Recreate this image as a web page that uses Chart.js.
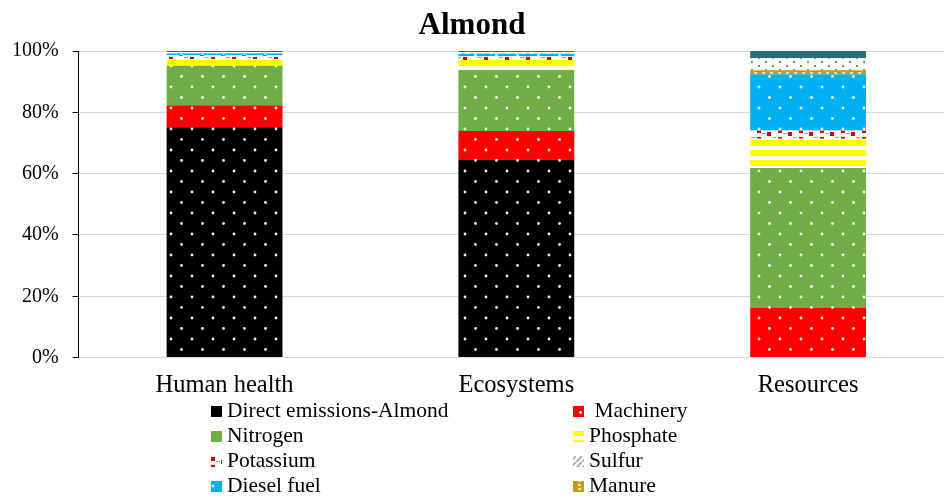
<!DOCTYPE html>
<html>
<head>
<meta charset="utf-8">
<script src="https://cdn.jsdelivr.net/npm/chart.js@4.4.0/dist/chart.umd.min.js"></script>
<style>
html, body { margin: 0; padding: 0; background: #fff; overflow: hidden; width: 944px; height: 498px; }
#wrap { position: relative; width: 956px; height: 498px; }
</style>
</head>
<body>
<div id="wrap"><canvas id="c" width="956" height="498"></canvas></div>
<script>
// ============ Data ============
const categories = ['Human health', 'Ecosystems', 'Resources'];
const directEmissions = [75.1, 64.6, 0];
const machinery = [7.2, 9.3, 16.3];
const nitrogen = [12.9, 19.9, 45.5];
const phosphate = [2.2, 3.3, 9.6];
const potassium = [1.2, 1.2, 2.6];
const sulfur = [0.1, 0.1, 0.1];
const dieselFuel = [0.5, 0.6, 18.3];
const manure = [0.1, 0.2, 1.3];
const pesticides = [0.4, 0.5, 3.9];
const electricity = [0.3, 0.3, 2.4];
const yTicks = [0, 20, 40, 60, 80, 100];

const SERIF = '"Liberation Serif", "Times New Roman", serif';

// ============ Fill patterns ============
const mainCtx = document.getElementById('c').getContext('2d');
function tile(w, h, draw) {
    const c = document.createElement('canvas');
    c.width = w; c.height = h;
    const g = c.getContext('2d');
    draw(g, w, h);
    return mainCtx.createPattern(c, 'repeat');
}
function dotted(bg) {
    return tile(21, 21, (g, w, h) => {
        g.fillStyle = bg; g.fillRect(0, 0, w, h);
        g.fillStyle = 'rgba(255,255,255,0.95)';
        [[3, 3], [13.5, 13.5]].forEach(([x, y]) => {
            g.beginPath(); g.arc(x, y, 1.4, 0, Math.PI * 2); g.fill();
        });
    });
}
const fills = {
    direct: dotted('#000000'),
    machinery: dotted('#ff0000'),
    nitrogen: dotted('#70ad47'),
    diesel: dotted('#00b0f0'),
    phosphate: tile(10, 10, (g) => {
        g.fillStyle = '#fff'; g.fillRect(0, 0, 10, 10);
        g.fillStyle = '#ffff00'; g.fillRect(0, 0, 10, 6);
    }),
    potassium: tile(21, 8, (g) => {
        g.fillStyle = '#fff'; g.fillRect(0, 0, 21, 8);
        g.fillStyle = '#d00000'; g.fillRect(1, 1, 4, 4); g.fillRect(11, 4, 4, 4);
        g.fillStyle = '#f08080'; g.fillRect(6, 5, 4, 1); g.fillRect(16, 1, 4, 1);
    }),
    sulfur: tile(6, 6, (g) => {
        g.fillStyle = '#fff'; g.fillRect(0, 0, 6, 6);
        g.strokeStyle = '#a08cc8'; g.lineWidth = 1.5;
        g.beginPath(); g.moveTo(0, 6); g.lineTo(6, 0); g.stroke();
    }),
    manure: tile(8, 4, (g) => {
        g.fillStyle = '#c49a1a'; g.fillRect(0, 0, 8, 4);
        g.fillStyle = '#f3e3b0'; g.fillRect(2, 0, 3, 2);
    }),
    pesticides: tile(14, 8, (g) => {
        g.fillStyle = '#fff'; g.fillRect(0, 0, 14, 8);
        g.fillStyle = '#6a9a4a'; g.fillRect(2, 1, 2, 2); g.fillRect(9, 5, 2, 2);
    }),
    electricity: '#2e6b7b'
};

// ============ Title + legend ============
const decorPlugin = {
    id: 'decor',
    afterDraw(chart) {
        const ctx = chart.ctx;
        ctx.save();
        ctx.fillStyle = '#000';
        ctx.textAlign = 'center';
        ctx.textBaseline = 'middle';
        ctx.font = 'bold 31px ' + SERIF;
        ctx.fillText('Almond', 472, 26);

        ctx.textAlign = 'left';
        ctx.font = '21.5px ' + SERIF;
        chart.data.datasets.forEach((ds, i) => {
            const col = i % 2, row = Math.floor(i / 2);
            const bx = col ? 573 : 211;
            const y = 411 + row * 25;
            ctx.fillStyle = ds.backgroundColor;
            ctx.fillRect(bx, y - 5, 11, 11);
            ctx.fillStyle = '#000';
            ctx.fillText(ds.label, bx + 16, y);
        });
        ctx.restore();
    }
};

const ds = (label, data, fill) => ({ label, data, backgroundColor: fill, borderWidth: 0 });

new Chart(document.getElementById('c'), {
    type: 'bar',
    data: {
        labels: categories,
        datasets: [
            ds('Direct emissions-Almond', directEmissions, fills.direct),
            ds(' Machinery', machinery, fills.machinery),
            ds('Nitrogen', nitrogen, fills.nitrogen),
            ds('Phosphate', phosphate, fills.phosphate),
            ds('Potassium', potassium, fills.potassium),
            ds('Sulfur', sulfur, fills.sulfur),
            ds('Diesel fuel', dieselFuel, fills.diesel),
            ds('Manure', manure, fills.manure),
            ds('Pesticides', pesticides, fills.pesticides),
            ds('Electricity', electricity, fills.electricity)
        ]
    },
    options: {
        responsive: false,
        animation: false,
        barPercentage: 0.397,
        categoryPercentage: 1,
        layout: { padding: { top: 51, left: -2, right: 2, bottom: 93 } },
        plugins: { legend: { display: false }, title: { display: false }, tooltip: { enabled: false } },
        scales: {
            x: {
                stacked: true,
                grid: { display: false },
                border: { display: false },
                ticks: { color: '#000', padding: 5, font: { family: SERIF, size: 24.5 } }
            },
            y: {
                stacked: true,
                min: 0, max: 100,
                afterBuildTicks(axis) { axis.ticks = yTicks.map(v => ({ value: v })); },
                grid: { color: '#d9d9d9', tickLength: 6, tickColor: '#000' },
                border: { color: '#000', width: 1 },
                ticks: {
                    color: '#000', padding: 14,
                    font: { family: SERIF, size: 20 },
                    callback: v => v + '%'
                }
            }
        }
    },
    plugins: [decorPlugin]
});
</script>
</body>
</html>
